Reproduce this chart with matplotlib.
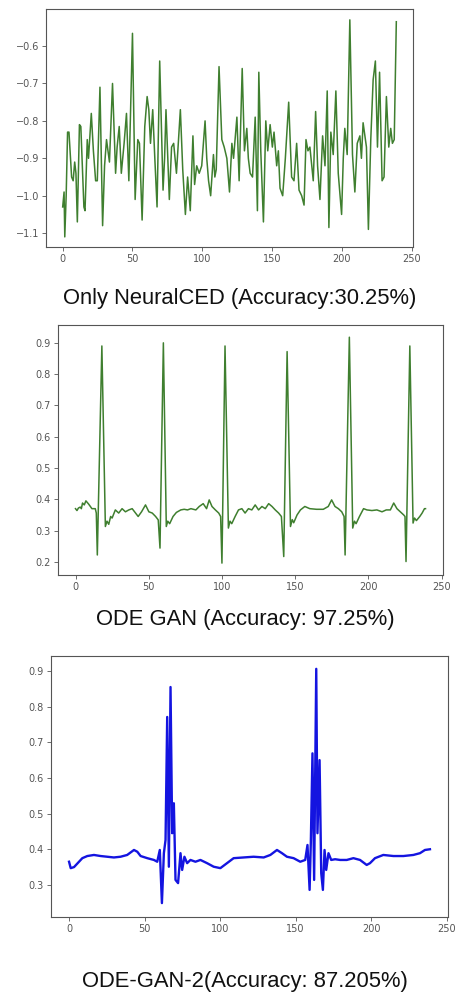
import matplotlib
matplotlib.use("Agg")
import matplotlib.pyplot as plt

# ---------------- data ----------------
neural_x = [0, 1, 1.5, 2.5, 3.5, 4.5, 6.4, 7.5, 8.6, 9.5, 10.5, 12, 13, 15.2, 16, 17.6, 18.5, 20.5,
            22, 23.6, 24.8, 26.7, 28.6, 30, 31.4, 33.5, 35.7, 37.9, 39, 40.5, 42, 44, 45.7, 47.4, 50,
            51.9, 53.8, 55, 56.9, 58.8, 60.5, 61.7, 62.9, 64.5, 66, 67.6, 69.5, 71.9, 73, 74, 76.4,
            78, 79.5, 81.5, 84.3, 86, 87.9, 89.5, 91.4, 93.3, 94.5, 96, 97.8, 99.6, 102, 103.2,
            104.5, 106, 108, 109, 110, 112, 114, 115.7, 117.6, 119.5, 121.2, 122.4, 124.8, 126.4,
            128.6, 130.2, 131.9, 133, 134.3, 136, 137.9, 139.5, 140.5, 141.9, 143.8, 145.5, 146.9,
            148.6, 150.2, 151.4, 153.3, 154.5, 155.7, 157.6, 159.5, 161.9, 164, 165.7, 167.6,
            169.3, 171.2, 172.9, 174.3, 175.7, 177.1, 179.5, 181.2, 182.6, 184.3, 186.2, 187.9,
            189.5, 190.7, 192.1, 193.8, 195.7, 197.4, 199.8, 201, 202.1, 203.8, 205.7, 207.6, 209.3,
            211, 212.9, 214, 215.2, 217.6, 219, 220.7, 222.4, 224, 225.5, 227, 228.8, 230.2, 231.9,
            233.6, 235, 236.2, 237.5, 239]
neural_y = [-1.03, -0.99, -1.11, -1.0, -0.83, -0.83, -0.95, -0.96, -0.91, -0.94, -1.07, -0.81,
            -0.815, -1.03, -1.04, -0.85, -0.9, -0.78, -0.88, -0.96, -0.96, -0.71, -1.08, -0.92,
            -0.85, -0.91, -0.70, -0.94, -0.87, -0.815, -0.94, -0.86, -0.78, -0.96, -0.566, -1.01,
            -0.85, -0.86, -1.065, -0.815, -0.735, -0.77, -0.86, -0.77, -0.9, -1.03, -0.64, -0.985,
            -0.9, -0.77, -1.01, -0.87, -0.86, -0.94, -0.77, -0.93, -1.05, -0.95, -1.04, -0.84,
            -0.97, -0.92, -0.94, -0.92, -0.80, -0.9, -0.96, -1.0, -0.89, -0.95, -0.93, -0.655,
            -0.85, -0.87, -0.9, -0.99, -0.86, -0.9, -0.79, -0.96, -0.66, -0.88, -0.82, -0.9, -0.94,
            -0.95, -0.79, -1.04, -0.67, -0.88, -1.07, -0.8, -0.88, -0.81, -0.87, -0.83, -0.92,
            -0.88, -0.98, -1.0, -0.9, -0.75, -0.95, -0.96, -0.86, -0.985, -1.0, -1.025, -0.85,
            -0.88, -0.87, -0.96, -0.775, -0.92, -1.01, -0.84, -0.92, -0.72, -1.085, -0.83, -0.89,
            -0.72, -0.94, -1.05, -0.9, -0.82, -0.89, -0.53, -0.89, -0.99, -0.86, -0.84, -0.9,
            -0.805, -0.87, -1.09, -0.85, -0.69, -0.64, -0.87, -0.67, -0.96, -0.95, -0.735, -0.87,
            -0.82, -0.86, -0.85, -0.535]

odegan_x = [0, 1, 2, 3.2, 4, 4.8, 6, 7.1, 8.9, 10, 11.2, 13.5, 14.2, 14.9, 18, 20.4, 21.5, 22.7,
            24, 25, 27.2, 29.5, 31.8, 34.1, 36.4, 38.7, 41, 42.8, 45.1, 47.8, 50.1, 52.4, 54.7,
            56.5, 57.7, 60, 62, 63, 64.3, 66.6, 68.9, 71.9, 74.2, 76.5, 78.8, 82.2, 84.5, 87.2,
            89.5, 91.3, 93.2, 95.5, 97.8, 99.1, 100, 102.1, 104.4, 105.5, 106.7, 109, 111.3, 113.6,
            115.8, 118.1, 120.4, 122.7, 125, 127.3, 129.6, 131.9, 134.2, 136.4, 138.7, 140.6,
            142.2, 144.5, 146.8, 148, 149, 151.3, 153.6, 156.6, 160, 164.6, 169.2, 172.6, 174.9,
            177.2, 179.5, 181.8, 183.4, 184.1, 187, 189.3, 190.5, 191.6, 193.9, 196.7, 199, 202.4,
            205.8, 209.3, 212.2, 215, 217.3, 219.5, 221.8, 224.1, 225, 225.7, 228.3, 230.5, 231.5,
            232.8, 235.1, 236.7, 238.3, 239]
odegan_y = [0.37, 0.364, 0.372, 0.375, 0.37, 0.388, 0.382, 0.395, 0.385, 0.378, 0.37, 0.37, 0.356,
            0.222, 0.89, 0.313, 0.33, 0.32, 0.345, 0.34, 0.366, 0.356, 0.37, 0.36, 0.366, 0.37,
            0.356, 0.345, 0.36, 0.382, 0.36, 0.356, 0.345, 0.334, 0.244, 0.90, 0.313, 0.33, 0.322,
            0.345, 0.358, 0.366, 0.368, 0.366, 0.37, 0.366, 0.377, 0.386, 0.37, 0.398, 0.377, 0.366,
            0.356, 0.345, 0.196, 0.89, 0.308, 0.33, 0.322, 0.345, 0.366, 0.37, 0.356, 0.37, 0.366,
            0.382, 0.366, 0.377, 0.37, 0.386, 0.377, 0.366, 0.356, 0.345, 0.217, 0.872, 0.313,
            0.335, 0.325, 0.35, 0.366, 0.377, 0.37, 0.368, 0.368, 0.377, 0.398, 0.377, 0.37, 0.36,
            0.345, 0.222, 0.918, 0.308, 0.33, 0.322, 0.345, 0.37, 0.366, 0.364, 0.366, 0.36, 0.366,
            0.366, 0.388, 0.37, 0.36, 0.35, 0.345, 0.201, 0.89, 0.324, 0.34, 0.332, 0.345, 0.356,
            0.37, 0.37]

odegan2_x = [0, 1.1, 3.3, 5.5, 8.8, 12.1, 16.5, 20.9, 25.3, 29.7, 34.1, 38.5, 43, 45.2, 47.4, 51.8,
             56.2, 58.4, 60.1, 61.5, 62.8, 63.9, 65, 66.1, 67.2, 68.3, 69.4, 70.5, 72.2, 73.8, 74.9,
             76.4, 78.2, 80.4, 83.7, 87, 91.4, 95.8, 100.2, 104.6, 109, 115.6, 122.2, 128.9, 133.3,
             137.7, 141, 144.3, 148.7, 153.1, 156.4, 157.9, 159.3, 160.1, 161.2, 162.3, 163.7, 164.5,
             165.9, 167, 168.1, 169.2, 170.3, 171.8, 173.6, 176.2, 179.5, 183.9, 188.3, 192.7, 197.1,
             199.3, 202.6, 208.1, 214.8, 221.4, 228, 232.4, 235.7, 239]
odegan2_y = [0.365, 0.347, 0.35, 0.36, 0.375, 0.381, 0.384, 0.381, 0.379, 0.377, 0.379, 0.384,
             0.398, 0.393, 0.381, 0.375, 0.37, 0.365, 0.398, 0.249, 0.389, 0.426, 0.771, 0.351,
             0.855, 0.445, 0.529, 0.314, 0.305, 0.389, 0.342, 0.379, 0.361, 0.37, 0.365, 0.37, 0.361,
             0.351, 0.347, 0.361, 0.375, 0.377, 0.379, 0.377, 0.384, 0.398, 0.389, 0.379, 0.375,
             0.365, 0.37, 0.412, 0.286, 0.417, 0.669, 0.314, 0.906, 0.445, 0.65, 0.333, 0.286, 0.398,
             0.342, 0.389, 0.37, 0.372, 0.37, 0.37, 0.375, 0.37, 0.356, 0.361, 0.375, 0.384, 0.381,
             0.381, 0.384, 0.389, 0.398, 0.40]

titles = ["Only NeuralCED (Accuracy:30.25%)",
          "ODE GAN (Accuracy: 97.25%)",
          "ODE-GAN-2(Accuracy: 87.205%)"]
xticks = [0, 50, 100, 150, 200, 250]
yticks1 = [-1.1, -1.0, -0.9, -0.8, -0.7, -0.6]
yticks2 = [0.2, 0.3, 0.4, 0.5, 0.6, 0.7, 0.8, 0.9]
yticks3 = [0.3, 0.4, 0.5, 0.6, 0.7, 0.8, 0.9]

# ---------------- figure ----------------
W, H = 456, 994
fig = plt.figure(figsize=(W / 100, H / 100), dpi=100)
fig.patch.set_facecolor("white")


def make_axes(rect, xs, ys, color, lw, yticks, ylabels):
    ax = fig.add_axes(rect)
    ax.plot(xs, ys, color=color, lw=lw)
    ax.set_xlim(-11.95, 250.95)
    ax.set_xticks(xticks)
    ax.set_yticks(yticks)
    ax.set_yticklabels(ylabels)
    ax.tick_params(labelsize=7, colors="#555555", length=3, width=0.6, pad=2)
    for s in ax.spines.values():
        s.set_color("#555555")
        s.set_linewidth(0.8)
    return ax


def px2fig(left, right, top, bottom):
    return [left / W, 1 - bottom / H, (right - left) / W, (bottom - top) / H]


ax1 = make_axes(px2fig(46, 413, 9, 247), neural_x, neural_y, "#3f7f2f", 1.1, yticks1,
                ["\u22121.1", "\u22121.0", "\u22120.9", "\u22120.8", "\u22120.7", "\u22120.6"])
ax1.set_ylim(-1.137, -0.501)

ax2 = make_axes(px2fig(58, 443, 325, 575), odegan_x, odegan_y, "#3f7f2f", 1.1, yticks2,
                [f"{v:.1f}" for v in yticks2])
ax2.set_ylim(0.158, 0.957)

ax3 = make_axes(px2fig(51, 448, 656, 917), odegan2_x, odegan2_y, "#1414e0", 1.7, yticks3,
                [f"{v:.1f}" for v in yticks3])
ax3.set_ylim(0.21, 0.942)

tfont = dict(family=["Liberation Sans", "DejaVu Sans"], size=15.8, color="#111111",
             ha="center", va="center")
fig.text(240 / W, 1 - 298 / H, titles[0], **tfont)
fig.text(245 / W, 1 - 620 / H, titles[1], **tfont)
fig.text(245 / W, 1 - 982 / H, titles[2], **tfont)

fig.savefig("out.png", dpi=100, facecolor="white")
